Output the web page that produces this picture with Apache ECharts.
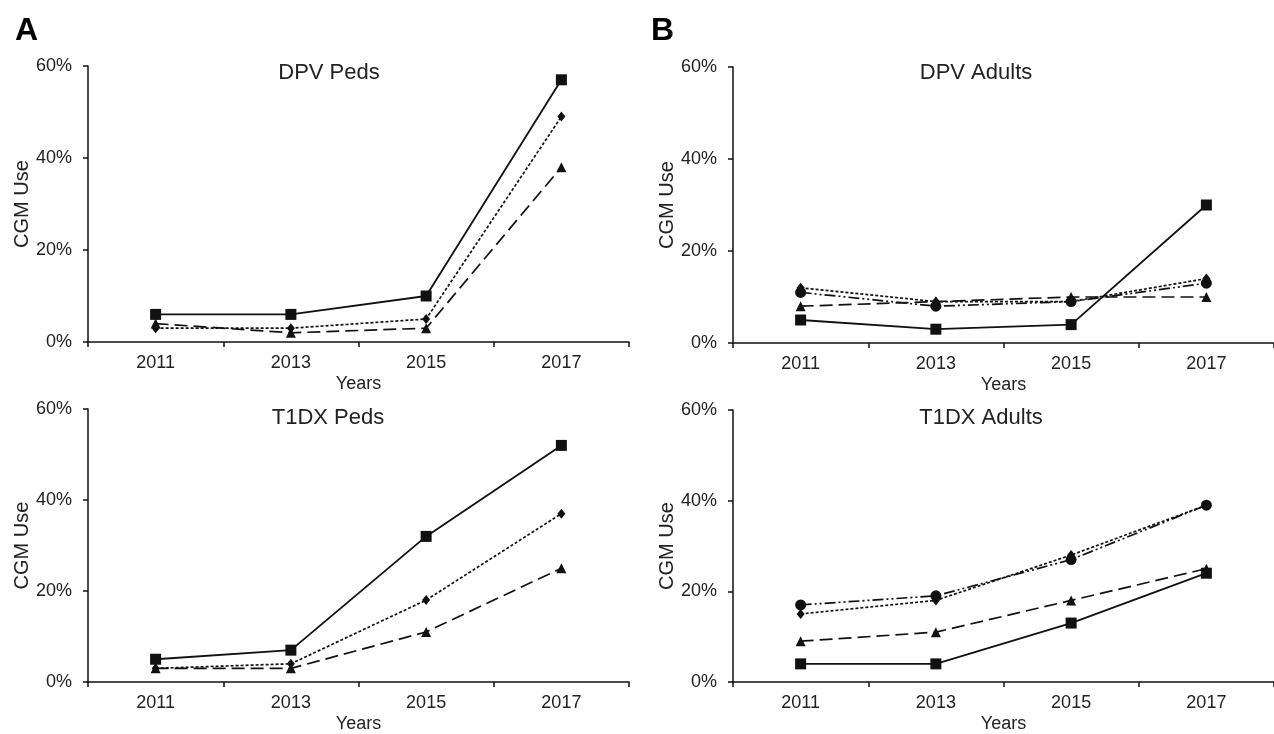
<!DOCTYPE html>
<html>
<head>
<meta charset="utf-8">
<script src="https://cdn.jsdelivr.net/npm/echarts@6/dist/echarts.min.js"></script>
<style>
html,body{margin:0;padding:0;background:#fff;}
#chart{width:1274px;height:734px;}
</style>
</head>
<body>
<div id="chart"></div>
<script>
// ---- data ----
const categories = ['2011', '2013', '2015', '2017'];
const yTickMin = 0, yTickMax = 60, yTickStep = 20;

const panelTitles = ['DPV Peds', 'DPV Adults', 'T1DX Peds', 'T1DX Adults'];
const panelLetters = ['A', 'B'];
const xAxisName = 'Years';
const yAxisName = 'CGM Use';

// DPV Peds
const dpvPedsSquare   = [6, 6, 10, 57];
const dpvPedsDiamond  = [3, 3, 5, 49];
const dpvPedsTriangle = [4, 2, 3, 38];
// DPV Adults
const dpvAdultsSquare   = [5, 3, 4, 30];
const dpvAdultsDiamond  = [12, 9, 9, 14];
const dpvAdultsTriangle = [8, 9, 10, 10];
const dpvAdultsCircle   = [11, 8, 9, 13];
// T1DX Peds
const t1dxPedsSquare   = [5, 7, 32, 52];
const t1dxPedsDiamond  = [3, 4, 18, 37];
const t1dxPedsTriangle = [3, 3, 11, 25];
// T1DX Adults
const t1dxAdultsSquare   = [4, 4, 13, 24];
const t1dxAdultsDiamond  = [15, 18, 28, 39];
const t1dxAdultsTriangle = [9, 11, 18, 25];
const t1dxAdultsCircle   = [17, 19, 27, 39];

// ---- styles ----
const FONT = 'Liberation Sans, Arial, sans-serif';
const INK = '#111';
const TXT = '#222';

const styles = {
  square:   {symbol: 'rect', symbolSize: 11, lineType: 'solid', width: 1.8},
  diamond:  {symbol: 'diamond', symbolSize: [8, 10], lineType: [3, 2], width: 1.7},
  triangle: {symbol: 'triangle', symbolSize: 10, lineType: [13, 6], width: 1.7},
  circle:   {symbol: 'circle', symbolSize: 11, lineType: [11, 3, 2, 3, 2, 3], width: 1.7}
};

const grids = [
  {left: 88,  top: 66,  width: 541, height: 276},
  {left: 733, top: 67,  width: 543, height: 276},
  {left: 88,  top: 409, width: 541, height: 277},
  {left: 733, top: 410, width: 543, height: 277}
];
const titleCenters = [[324, 57], [971, 57], [323, 402], [976, 402]];
const yNameGaps = [56, 52, 56, 52];

const panelSeries = [
  [['square', dpvPedsSquare], ['diamond', dpvPedsDiamond], ['triangle', dpvPedsTriangle]],
  [['square', dpvAdultsSquare], ['triangle', dpvAdultsTriangle], ['circle', dpvAdultsCircle], ['diamond', dpvAdultsDiamond]],
  [['square', t1dxPedsSquare], ['diamond', t1dxPedsDiamond], ['triangle', t1dxPedsTriangle]],
  [['square', t1dxAdultsSquare], ['triangle', t1dxAdultsTriangle], ['circle', t1dxAdultsCircle], ['diamond', t1dxAdultsDiamond]]
];

const xAxes = [], yAxes = [], series = [], titles = [];
grids.forEach((g, i) => {
  xAxes.push({
    type: 'category', gridIndex: i, data: categories, boundaryGap: true,
    name: xAxisName, nameLocation: 'middle', nameGap: 33,
    nameTextStyle: {fontFamily: FONT, fontSize: 18, color: TXT},
    axisLine: {lineStyle: {color: INK, width: 1.5}},
    axisTick: {show: true, length: 5, inside: false, lineStyle: {color: INK, width: 1.5}},
    axisLabel: {fontFamily: FONT, fontSize: 18, color: TXT, margin: 12},
    splitLine: {show: false}
  });
  yAxes.push({
    type: 'value', gridIndex: i, min: yTickMin, max: yTickMax, interval: yTickStep,
    name: yAxisName, nameLocation: 'middle', nameGap: yNameGaps[i], nameRotate: 90,
    nameTextStyle: {fontFamily: FONT, fontSize: 20, color: TXT},
    axisLine: {show: true, lineStyle: {color: INK, width: 1.5}},
    axisTick: {show: true, length: 5, lineStyle: {color: INK, width: 1.5}},
    axisLabel: {fontFamily: FONT, fontSize: 18, color: TXT, margin: 16, formatter: '{value}%'},
    splitLine: {show: false}
  });
  titles.push({
    text: panelTitles[i], left: titleCenters[i][0], top: titleCenters[i][1], textAlign: 'center',
    textStyle: {fontFamily: FONT, fontSize: 22, fontWeight: 'normal', color: TXT}
  });
  panelSeries[i].forEach(([kind, values]) => {
    const s = styles[kind];
    series.push({
      type: 'line', xAxisIndex: i, yAxisIndex: i, data: values,
      symbol: s.symbol, symbolSize: s.symbolSize, showSymbol: true,
      lineStyle: {color: INK, width: s.width, type: s.lineType},
      itemStyle: {color: INK, borderWidth: 0},
      animation: false, silent: true
    });
  });
});

titles.push({text: panelLetters[0], left: 10, top: 10, textStyle: {fontFamily: FONT, fontSize: 32, fontWeight: 'bold', color: '#000'}});
titles.push({text: panelLetters[1], left: 646, top: 10, textStyle: {fontFamily: FONT, fontSize: 32, fontWeight: 'bold', color: '#000'}});

const chart = echarts.init(document.getElementById('chart'), null, {renderer: 'canvas'});
chart.setOption({
  backgroundColor: '#fff',
  animation: false,
  title: titles,
  grid: grids,
  xAxis: xAxes,
  yAxis: yAxes,
  series: series
});
</script>
</body>
</html>
